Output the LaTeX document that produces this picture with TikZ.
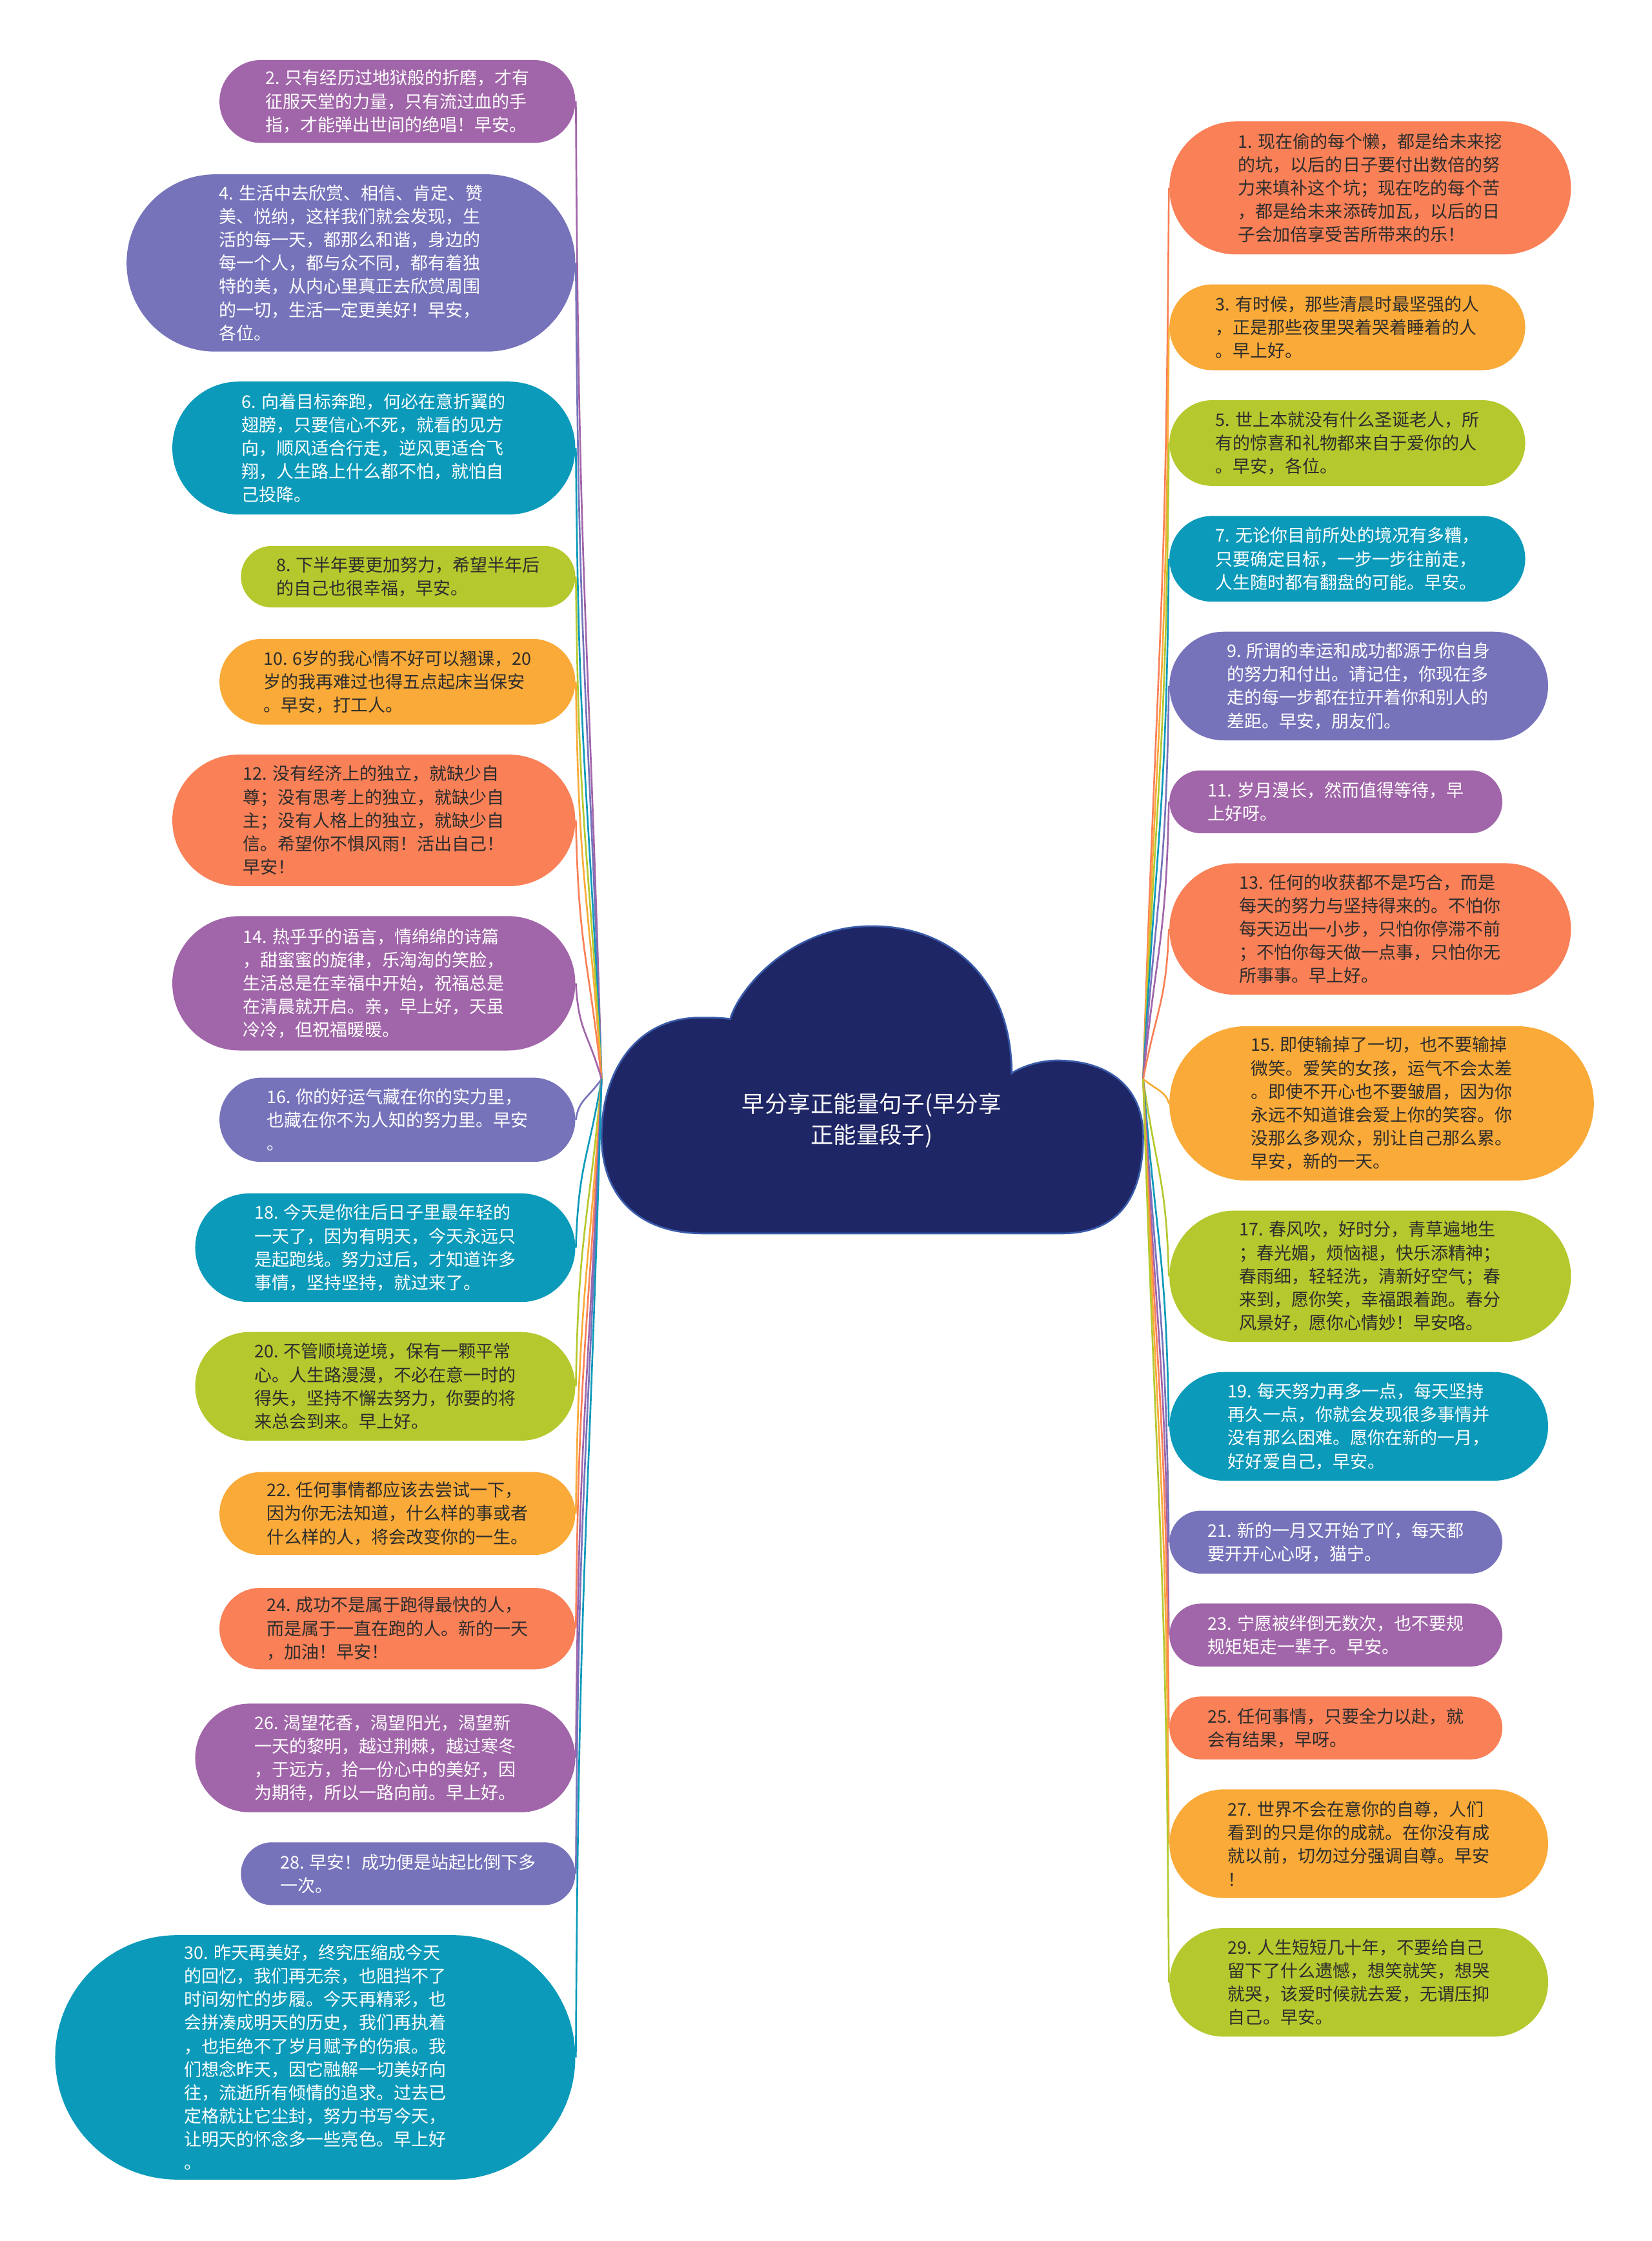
\documentclass[tikz,border=0pt]{standalone}
\usepackage{fontspec}
\usepackage{tikz}
\usetikzlibrary{shapes.misc}
\usepackage{xcolor}
\setmainfont{Noto Sans CJK SC}
\newfontfamily\cjk{Noto Sans CJK SC}
\definecolor{mmpurple}{RGB}{161,101,169}
\definecolor{mmviolet}{RGB}{118,115,187}
\definecolor{mmteal}{RGB}{11,154,186}
\definecolor{mmlime}{RGB}{181,200,46}
\definecolor{mmorange}{RGB}{250,170,56}
\definecolor{mmcoral}{RGB}{249,128,87}
\definecolor{mmnavy}{RGB}{31,38,102}
\definecolor{mmedge}{RGB}{58,92,170}
\definecolor{mmink}{RGB}{45,45,45}
\newcommand\cardfont{\cjk\fontsize{6.1}{8.17}\selectfont}
\newcommand\titlefont{\cjk\fontsize{8}{11}\selectfont}

\begin{document}
\begin{tikzpicture}[x=0.5pt, y=-0.5pt,
  card/.style={rounded rectangle, inner sep=1pt, align=left, font=\cardfont},
  lite/.style={card, text=white},
  dark/.style={card, text=mmink},
  lcard/.style={anchor=east},
  rcard/.style={anchor=west},
  link/.style={line width=0.6pt}
]
  \path[use as bounding box, fill=white] (0,0) rectangle (1156,1568);

  % cloud in the middle
  \draw[fill=mmnavy, draw=mmedge, line width=0.6pt]
    (492,863) -- (743,863)
    .. controls (785,863) and (800,835) .. (800,795)
    .. controls (800,760) and (775,742) .. (740,742)
    .. controls (725,742) and (712,748) .. (708,751)
    .. controls (708,690) and (670,648) .. (610,648)
    .. controls (555,648) and (518,690) .. (511,713)
    .. controls (505,712) and (498,712) .. (490,712)
    .. controls (445,712) and (421,750) .. (421,795)
    .. controls (421,835) and (445,863) .. (492,863) -- cycle;
  \node[font=\titlefont, text=white, align=center] (root) at (610,784)
    {早分享正能量句子(早分享\\正能量段子)};
  \coordinate (rootL) at (421,755);
  \coordinate (rootR) at (800,755);

  % left column
  \node[lite, lcard, fill=mmpurple, minimum width=126.5pt, minimum height=29pt] (n2) at (403,71)
    {2. 只有经历过地狱般的折磨，才有\\征服天堂的力量，只有流过血的手\\指，才能弹出世间的绝唱！早安。};
  \node[lite, lcard, fill=mmviolet, minimum width=159pt, minimum height=62pt] (n4) at (403,184)
    {4. 生活中去欣赏、相信、肯定、赞\\美、悦纳，这样我们就会发现，生\\活的每一天，都那么和谐，身边的\\每一个人，都与众不同，都有着独\\特的美，从内心里真正去欣赏周围\\的一切，生活一定更美好！早安，\\各位。};
  \node[lite, lcard, fill=mmteal, minimum width=143pt, minimum height=46.5pt] (n6) at (403,313.5)
    {6. 向着目标奔跑，何必在意折翼的\\翅膀，只要信心不死，就看的见方\\向，顺风适合行走，逆风更适合飞\\翔，人生路上什么都不怕，就怕自\\己投降。};
  \node[dark, lcard, fill=mmlime, minimum width=119pt, minimum height=21.5pt] (n8) at (403,403.5)
    {8. 下半年要更加努力，希望半年后\\的自己也很幸福，早安。};
  \node[dark, lcard, fill=mmorange, minimum width=126.5pt, minimum height=30pt] (n10) at (403,477)
    {10. 6岁的我心情不好可以翘课，20\\岁的我再难过也得五点起床当保安\\。早安，打工人。};
  \node[dark, lcard, fill=mmcoral, minimum width=143pt, minimum height=46pt] (n12) at (403,574)
    {12. 没有经济上的独立，就缺少自\\尊；没有思考上的独立，就缺少自\\主；没有人格上的独立，就缺少自\\信。希望你不惧风雨！活出自己！\\早安！};
  \node[lite, lcard, fill=mmpurple, minimum width=143pt, minimum height=47pt] (n14) at (403,688)
    {14. 热乎乎的语言，情绵绵的诗篇\\，甜蜜蜜的旋律，乐淘淘的笑脸，\\生活总是在幸福中开始，祝福总是\\在清晨就开启。亲，早上好，天虽\\冷冷，但祝福暖暖。};
  \node[lite, lcard, fill=mmviolet, minimum width=126.5pt, minimum height=29.5pt] (n16) at (403,783.5)
    {16. 你的好运气藏在你的实力里，\\也藏在你不为人知的努力里。早安\\。};
  \node[lite, lcard, fill=mmteal, minimum width=135pt, minimum height=38pt] (n18) at (403,873)
    {18. 今天是你往后日子里最年轻的\\一天了，因为有明天，今天永远只\\是起跑线。努力过后，才知道许多\\事情，坚持坚持，就过来了。};
  \node[dark, lcard, fill=mmlime, minimum width=135pt, minimum height=38pt] (n20) at (403,970)
    {20. 不管顺境逆境，保有一颗平常\\心。人生路漫漫，不必在意一时的\\得失，坚持不懈去努力，你要的将\\来总会到来。早上好。};
  \node[dark, lcard, fill=mmorange, minimum width=126.5pt, minimum height=29pt] (n22) at (403,1059)
    {22. 任何事情都应该去尝试一下，\\因为你无法知道，什么样的事或者\\什么样的人，将会改变你的一生。};
  \node[dark, lcard, fill=mmcoral, minimum width=126.5pt, minimum height=28.5pt] (n24) at (403,1139.5)
    {24. 成功不是属于跑得最快的人，\\而是属于一直在跑的人。新的一天\\，加油！早安！};
  \node[lite, lcard, fill=mmpurple, minimum width=135pt, minimum height=38pt] (n26) at (403,1230)
    {26. 渴望花香，渴望阳光，渴望新\\一天的黎明，越过荆棘，越过寒冬\\，于远方，拾一份心中的美好，因\\为期待，所以一路向前。早上好。};
  \node[lite, lcard, fill=mmviolet, minimum width=119pt, minimum height=22pt] (n28) at (403,1311)
    {28. 早安！成功便是站起比倒下多\\一次。};
  \node[lite, lcard, fill=mmteal, minimum width=184pt, minimum height=85.5pt] (n30) at (403,1439.5)
    {30. 昨天再美好，终究压缩成今天\\的回忆，我们再无奈，也阻挡不了\\时间匆忙的步履。今天再精彩，也\\会拼凑成明天的历史，我们再执着\\，也拒绝不了岁月赋予的伤痕。我\\们想念昨天，因它融解一切美好向\\往，流逝所有倾情的追求。过去已\\定格就让它尘封，努力书写今天，\\让明天的怀念多一些亮色。早上好\\。};

  % right column
  \node[dark, rcard, fill=mmcoral, minimum width=142.5pt, minimum height=46.5pt] (n1) at (818,131.5)
    {1. 现在偷的每个懒，都是给未来挖\\的坑，以后的日子要付出数倍的努\\力来填补这个坑；现在吃的每个苦\\，都是给未来添砖加瓦，以后的日\\子会加倍享受苦所带来的乐！};
  \node[dark, rcard, fill=mmorange, minimum width=126.5pt, minimum height=30pt] (n3) at (818,229)
    {3. 有时候，那些清晨时最坚强的人\\，正是那些夜里哭着哭着睡着的人\\。早上好。};
  \node[dark, rcard, fill=mmlime, minimum width=126.5pt, minimum height=30pt] (n5) at (818,310)
    {5. 世上本就没有什么圣诞老人，所\\有的惊喜和礼物都来自于爱你的人\\。早安，各位。};
  \node[lite, rcard, fill=mmteal, minimum width=126.5pt, minimum height=30pt] (n7) at (818,391)
    {7. 无论你目前所处的境况有多糟，\\只要确定目标，一步一步往前走，\\人生随时都有翻盘的可能。早安。};
  \node[lite, rcard, fill=mmviolet, minimum width=134.5pt, minimum height=38pt] (n9) at (818,480)
    {9. 所谓的幸运和成功都源于你自身\\的努力和付出。请记住，你现在多\\走的每一步都在拉开着你和别人的\\差距。早安，朋友们。};
  \node[lite, rcard, fill=mmpurple, minimum width=118.5pt, minimum height=22pt] (n11) at (818,561)
    {11. 岁月漫长，然而值得等待，早\\上好呀。};
  \node[dark, rcard, fill=mmcoral, minimum width=142.5pt, minimum height=46pt] (n13) at (818,650)
    {13. 任何的收获都不是巧合，而是\\每天的努力与坚持得来的。不怕你\\每天迈出一小步，只怕你停滞不前\\；不怕你每天做一点事，只怕你无\\所事事。早上好。};
  \node[dark, rcard, fill=mmorange, minimum width=150.5pt, minimum height=54pt] (n15) at (818,772)
    {15. 即使输掉了一切，也不要输掉\\微笑。爱笑的女孩，运气不会太差\\。即使不开心也不要皱眉，因为你\\永远不知道谁会爱上你的笑容。你\\没那么多观众，别让自己那么累。\\早安，新的一天。};
  \node[dark, rcard, fill=mmlime, minimum width=142.5pt, minimum height=46pt] (n17) at (818,893)
    {17. 春风吹，好时分，青草遍地生\\；春光媚，烦恼褪，快乐添精神；\\春雨细，轻轻洗，清新好空气；春\\来到，愿你笑，幸福跟着跑。春分\\风景好，愿你心情妙！早安咯。};
  \node[lite, rcard, fill=mmteal, minimum width=134.5pt, minimum height=38pt] (n19) at (818,998)
    {19. 每天努力再多一点，每天坚持\\再久一点，你就会发现很多事情并\\没有那么困难。愿你在新的一月，\\好好爱自己，早安。};
  \node[lite, rcard, fill=mmviolet, minimum width=118.5pt, minimum height=22pt] (n21) at (818,1079)
    {21. 新的一月又开始了吖，每天都\\要开开心心呀，猫宁。};
  \node[lite, rcard, fill=mmpurple, minimum width=118.5pt, minimum height=22pt] (n23) at (818,1144)
    {23. 宁愿被绊倒无数次，也不要规\\规矩矩走一辈子。早安。};
  \node[dark, rcard, fill=mmcoral, minimum width=118.5pt, minimum height=22pt] (n25) at (818,1209)
    {25. 任何事情，只要全力以赴，就\\会有结果，早呀。};
  \node[dark, rcard, fill=mmorange, minimum width=134.5pt, minimum height=38pt] (n27) at (818,1290)
    {27. 世界不会在意你的自尊，人们\\看到的只是你的成就。在你没有成\\就以前，切勿过分强调自尊。早安\\！};
  \node[dark, rcard, fill=mmlime, minimum width=134.5pt, minimum height=38pt] (n29) at (818,1387)
    {29. 人生短短几十年，不要给自己\\留下了什么遗憾，想笑就笑，想哭\\就哭，该爱时候就去爱，无谓压抑\\自己。早安。};

  % links, left side
  \draw[link, mmpurple] (rootL) .. controls +(-10,-342) and +(2,342) .. (n2.east);
  \draw[link, mmviolet] (rootL) .. controls +(-10,-285) and +(2,285) .. (n4.east);
  \draw[link, mmteal]   (rootL) .. controls +(-10,-221) and +(2,221) .. (n6.east);
  \draw[link, mmlime]   (rootL) .. controls +(-10,-176) and +(2,176) .. (n8.east);
  \draw[link, mmorange] (rootL) .. controls +(-10,-139) and +(2,139) .. (n10.east);
  \draw[link, mmcoral]  (rootL) .. controls +(-10,-90) and +(2,90) .. (n12.east);
  \draw[link, mmpurple] (rootL) .. controls +(-10,-34) and +(2,34) .. (n14.east);
  \draw[link, mmviolet] (rootL) .. controls +(-10,14) and +(2,-14) .. (n16.east);
  \draw[link, mmteal]   (rootL) .. controls +(-10,59) and +(2,-59) .. (n18.east);
  \draw[link, mmlime]   (rootL) .. controls +(-10,108) and +(2,-108) .. (n20.east);
  \draw[link, mmorange] (rootL) .. controls +(-10,152) and +(2,-152) .. (n22.east);
  \draw[link, mmcoral]  (rootL) .. controls +(-10,192) and +(2,-192) .. (n24.east);
  \draw[link, mmpurple] (rootL) .. controls +(-10,238) and +(2,-238) .. (n26.east);
  \draw[link, mmviolet] (rootL) .. controls +(-10,278) and +(2,-278) .. (n28.east);
  \draw[link, mmteal]   (rootL) .. controls +(-10,342) and +(2,-342) .. (n30.east);

  % links, right side
  \draw[link, mmcoral]  (rootR) .. controls +(10,-312) and +(-2,312) .. (n1.west);
  \draw[link, mmorange] (rootR) .. controls +(10,-263) and +(-2,263) .. (n3.west);
  \draw[link, mmlime]   (rootR) .. controls +(10,-222) and +(-2,222) .. (n5.west);
  \draw[link, mmteal]   (rootR) .. controls +(10,-182) and +(-2,182) .. (n7.west);
  \draw[link, mmviolet] (rootR) .. controls +(10,-138) and +(-2,138) .. (n9.west);
  \draw[link, mmpurple] (rootR) .. controls +(10,-97) and +(-2,97) .. (n11.west);
  \draw[link, mmcoral]  (rootR) .. controls +(10,-52) and +(-2,52) .. (n13.west);
  \draw[link, mmorange] (rootR) .. controls +(10,8) and +(-2,-8) .. (n15.west);
  \draw[link, mmlime]   (rootR) .. controls +(10,69) and +(-2,-69) .. (n17.west);
  \draw[link, mmteal]   (rootR) .. controls +(10,122) and +(-2,-122) .. (n19.west);
  \draw[link, mmviolet] (rootR) .. controls +(10,162) and +(-2,-162) .. (n21.west);
  \draw[link, mmpurple] (rootR) .. controls +(10,194) and +(-2,-194) .. (n23.west);
  \draw[link, mmcoral]  (rootR) .. controls +(10,227) and +(-2,-227) .. (n25.west);
  \draw[link, mmorange] (rootR) .. controls +(10,268) and +(-2,-268) .. (n27.west);
  \draw[link, mmlime]   (rootR) .. controls +(10,316) and +(-2,-316) .. (n29.west);
\end{tikzpicture}
\end{document}
